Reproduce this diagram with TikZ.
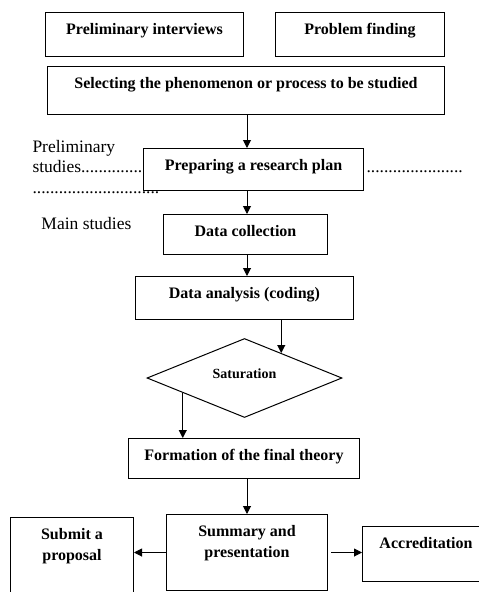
\documentclass[tikz,border=0pt]{standalone}
\usepackage{fontspec}
\setmainfont{Liberation Serif}
\usetikzlibrary{arrows.meta,shapes.geometric,calc}

\begin{document}
\begin{tikzpicture}[x=1pt, y=-1pt, ->, >={Triangle[length=8pt,width=8pt]}, line width=1pt,
  box/.style={draw, fill=white, inner sep=0pt, anchor=north west, text height=22pt,
    font=\bfseries\fontsize{16}{20.5}\selectfont},
  decision/.style={diamond, draw, fill=white, inner sep=0pt, aspect=2.5,
    text height=10pt, text depth=10pt, font=\bfseries\fontsize{14}{17}\selectfont},
  side/.style={inner sep=0pt, anchor=base west, font=\fontsize{17.5}{20.5}\selectfont}]
\clip (0,0) rectangle (479,592);

\node[side] (prelim) at (32,152) {\begin{tabular}[t]{@{}l@{}}Preliminary\\studies..............\\.............................\end{tabular}};
\node[side] (dotsR) at (366,172) {......................};
\node[side] (mainst) at (41,229.5) {Main studies};

\node[box, minimum width=198pt, text depth=22pt] (interv) at (45,12) {Preliminary interviews};
\node[box, minimum width=169pt, text depth=22pt] (probfind) at (275,12) {Problem finding};
\node[box, minimum width=397pt, text depth=26pt] (select) at (47,66) {Selecting the phenomenon or process to be studied};
\node[box, minimum width=220pt, text depth=20pt] (plan) at (143,148) {Preparing a research plan};
\node[box, minimum width=164pt, text depth=18pt] (collect) at (163,214) {Data collection};
\node[box, minimum width=218pt, text depth=21pt] (analysis) at (135,276) {Data analysis (coding)};
\node[decision, minimum width=195pt, minimum height=79pt] (sat) at (244.5,378) {Saturation};
\node[box, minimum width=231pt, text depth=18pt] (theory) at (128,438) {Formation of the final theory};
\node[box, minimum width=161pt, text depth=54pt] (summary) at (166,514) {\begin{tabular}[t]{@{}c@{}}Summary and\\presentation\end{tabular}};
\node[box, minimum width=123pt, text depth=58pt] (submit) at (10,517) {\begin{tabular}[t]{@{}c@{}}Submit a\\proposal\end{tabular}};
\node[box, minimum width=127pt, text depth=33pt] (accred) at (362,526) {Accreditation};

\coordinate (spine) at (247,0);
\coordinate (satin) at ($(sat.north)!0.75!(sat.north east)$);
\coordinate (satout) at ($(sat.west)!0.37!(sat.south)$);

\draw (select.south -| spine) -- (plan.north -| spine);
\draw (plan.south -| spine) -- (collect.north -| spine);
\draw (collect.south -| spine) -- (analysis.north -| spine);
\draw (analysis.south -| satin) -- (satin);
\draw (satout) -- (satout |- theory.north);
\draw (theory.south -| spine) -- (summary.north -| spine);
\draw (summary.west) -- (summary.west -| submit.east);
\draw[shorten <=3pt] (summary.east) -- (summary.east -| accred.west);
\end{tikzpicture}
\end{document}
